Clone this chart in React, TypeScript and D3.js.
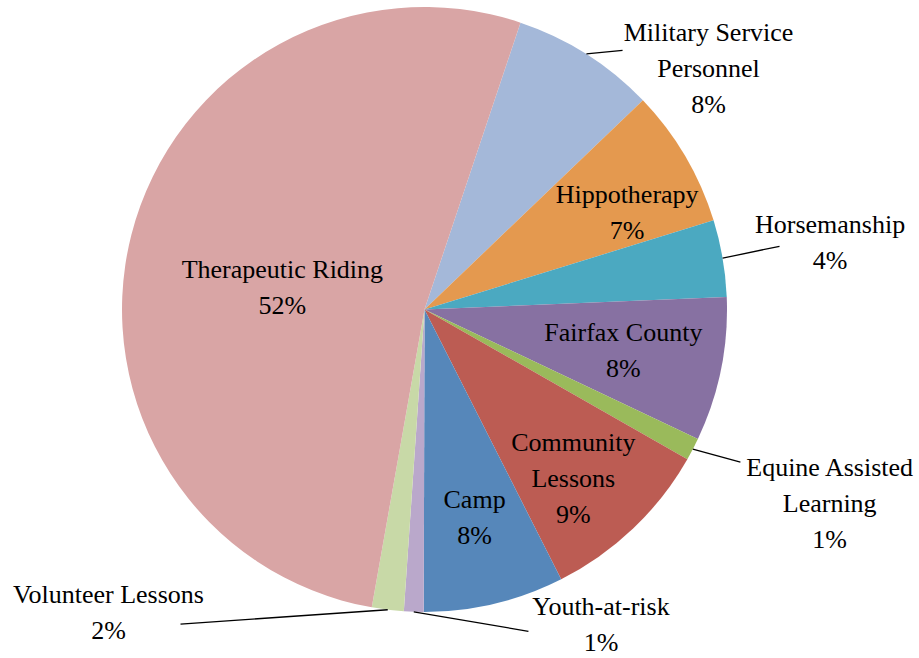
import { useEffect, useRef } from "react";
import * as d3 from "d3";

// categories in clockwise order, starting just right of 12 o'clock
const categories = [
    "Military Service Personnel",
    "Hippotherapy",
    "Horsemanship",
    "Fairfax County",
    "Equine Assisted Learning",
    "Community Lessons",
    "Camp",
    "Youth-at-risk",
    "Volunteer Lessons",
    "Therapeutic Riding",
];

// share of participants (%)
const shares = [7.7, 7.4, 4.1, 7.7, 1.2, 9.3, 7.5, 1.05, 1.7, 52.35];

const colors = [
    "#a4b8d9", "#e4994f", "#4ba9c1", "#8771a2", "#9aba5b",
    "#bc5c53", "#5687ba", "#baa8cb", "#c8d9a7", "#d9a5a5",
];

// how each label is broken into lines
const labelLines = [
    ["Military Service", "Personnel"],
    ["Hippotherapy"],
    ["Horsemanship"],
    ["Fairfax County"],
    ["Equine Assisted", "Learning"],
    ["Community", "Lessons"],
    ["Camp"],
    ["Youth-at-risk"],
    ["Volunteer Lessons"],
    ["Therapeutic Riding"],
];

// label placement: angle (deg clockwise from top) and radius factor of the text block centre
const labelPos = [
    [49.6, 1.233], [64.2, 0.744], [80.6, 1.359], [101.6, 0.671], [115.5, 1.484],
    [138.6, 0.744], [166.4, 0.704], [150.7, 1.192], [226.3, 1.445], [279.2, 0.476],
];

// leader line end (angle, radius factor); null = label sits inside the slice
const leaderEnd = [
    [37.4, 1.078], null, [79.9, 1.192], null, [115.8, 1.16],
    null, null, [162.1, 1.118], [217.8, 1.316], null,
];

const width = 919;
const height = 658;
const cx = 424.5;
const cy = 309.5;
const radius = 302.5;
const startDeg = 18.5;
const fontSize = 26;
const lineHeight = 36;

const polar = (deg, r) => {
    const a = (deg * Math.PI) / 180;
    return [Math.sin(a) * r, -Math.cos(a) * r];
};

const drawChart = (el) => {
    d3.select(el).selectAll("*").remove();

    const data = categories.map((name, i) => ({ name, value: shares[i], i }));
    const total = d3.sum(shares);
    const pct = d3.format(".0%");

    const color = d3.scaleOrdinal().domain(categories).range(colors);

    const pie = d3.pie()
        .sort(null)
        .value(d => d.value)
        .startAngle((startDeg * Math.PI) / 180)
        .endAngle(((startDeg + 360) * Math.PI) / 180);

    const arc = d3.arc().innerRadius(0).outerRadius(radius);

    const svg = d3.select(el)
        .attr("width", width)
        .attr("height", height)
        .attr("viewBox", [0, 0, width, height]);

    const g = svg.append("g").attr("transform", `translate(${cx},${cy})`);

    const arcs = pie(data);

    g.append("g")
        .selectAll("path")
        .data(arcs)
        .join("path")
        .attr("fill", d => color(d.data.name))
        .attr("d", arc);

    // leader lines from the slice edge to the label
    g.append("g")
        .attr("stroke", "#000")
        .attr("stroke-width", 1.3)
        .selectAll("line")
        .data(arcs.filter(d => leaderEnd[d.data.i]))
        .join("line")
        .each(function (d) {
            const mid = ((d.startAngle + d.endAngle) / 2) * 180 / Math.PI;
            const [x1, y1] = polar(mid, radius);
            const [ea, er] = leaderEnd[d.data.i];
            const [x2, y2] = polar(ea, er * radius);
            d3.select(this).attr("x1", x1).attr("y1", y1).attr("x2", x2).attr("y2", y2);
        });

    // labels
    const labels = g.append("g")
        .attr("font-family", "'Liberation Serif', 'Times New Roman', serif")
        .attr("font-size", fontSize)
        .attr("fill", "#000")
        .attr("text-anchor", "middle")
        .selectAll("text")
        .data(arcs)
        .join("text")
        .attr("transform", d => {
            const [a, f] = labelPos[d.data.i];
            const [x, y] = polar(a, f * radius);
            return `translate(${x},${y})`;
        });

    labels.each(function (d) {
        const lines = [...labelLines[d.data.i], pct(d.data.value / total)];
        const top = -((lines.length - 1) * lineHeight) / 2;
        d3.select(this)
            .selectAll("tspan")
            .data(lines)
            .join("tspan")
            .attr("x", 0)
            .attr("y", (_, k) => top + k * lineHeight)
            .attr("dy", "0.35em")
            .text(t => t);
    });
};

export default function App() {
    const ref = useRef(null);

    useEffect(() => {
        drawChart(ref.current);
    }, []);

    return (
        <svg
            ref={ref}
            style={{ position: "absolute", left: 0, top: 0, background: "#fff" }}
        />
    );
}
